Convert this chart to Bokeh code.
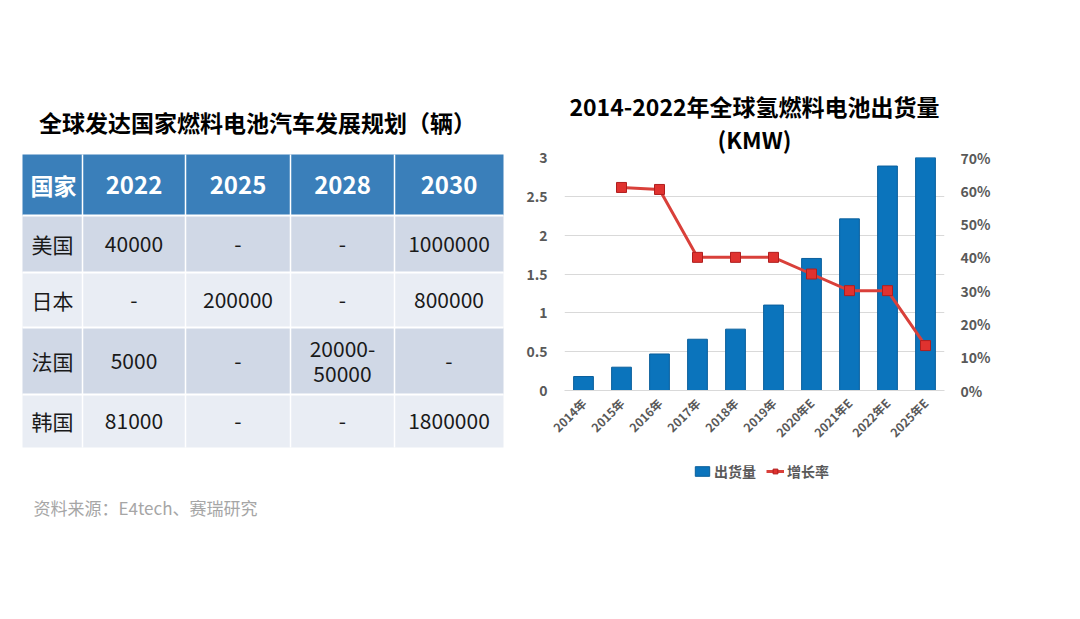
from bokeh.plotting import figure
from bokeh.models import (ColumnDataSource, Range1d, LinearAxis, FactorRange,
                          NumeralTickFormatter, Legend, LegendItem, Title, FixedTicker)
from bokeh.layouts import row, column
from bokeh.embed import file_html
from bokeh.resources import INLINE
from bokeh.core.properties import value
import math

# ---------------- data ----------------
table_title = "全球发达国家燃料电池汽车发展规划（辆）"
table_header = ["国家", "2022", "2025", "2028", "2030"]
countries = ["美国", "日本", "法国", "韩国"]
col_2022 = ["40000", "-", "5000", "81000"]
col_2025 = ["-", "200000", "-", "-"]
col_2028 = ["-", "-", "20000-\n50000", "-"]
col_2030 = ["1000000", "800000", "-", "1800000"]
source_note = "资料来源：E4tech、赛瑞研究"

chart_title = "2014-2022年全球氢燃料电池出货量"
chart_unit = "(KMW)"
years = ["2014年", "2015年", "2016年", "2017年", "2018年", "2019年",
         "2020年E", "2021年E", "2022年E", "2025年E"]
shipments = [0.18, 0.30, 0.47, 0.66, 0.79, 1.10, 1.70, 2.21, 2.89, 3.00]
growth_years = ["2015年", "2016年", "2017年", "2018年", "2019年",
                "2020年E", "2021年E", "2022年E", "2025年E"]
growth = [0.61, 0.604, 0.40, 0.40, 0.40, 0.35, 0.30, 0.30, 0.135]
left_ticks = [0, 0.5, 1, 1.5, 2, 2.5, 3]
left_tick_labels = ["0", "0.5", "1", "1.5", "2", "2.5", "3"]
right_ticks = [0, 0.1, 0.2, 0.3, 0.4, 0.5, 0.6, 0.7]
legend_labels = ["出货量", "增长率"]

FONT = "Noto Sans CJK SC"
BAR_FILL, BAR_LINE = "#0B74BC", "#0A5F9C"
LINE_COLOR, MK_FILL, MK_LINE = "#D9403A", "#E0322F", "#B01E1E"

# ---------------- left panel: table ----------------
LW, LH = 520, 560
left = figure(width=LW, height=LH, x_range=Range1d(0, LW), y_range=Range1d(LH, 0),
              output_backend="svg", toolbar_location=None, min_border=0,
              x_axis_type=None, y_axis_type=None, frame_align=False)
left.grid.visible = False
left.outline_line_color = None
left.background_fill_color = "white"

left.text(x=[257], y=[121], text=[table_title], text_font=value(FONT),
          text_font_size="23px", text_font_style="bold", text_color="#000000",
          text_align="center", text_baseline="middle")

cx = [22, 82, 185, 290, 394, 503]
ry = [154, 215, 272, 327, 394, 447]
row_colors = ["#3A7FBA", "#D0D8E6", "#E9EDF4", "#D0D8E6", "#E9EDF4"]
left.quad(left=[cx[0]] * 5, right=[cx[-1]] * 5, top=ry[:-1], bottom=ry[1:],
          fill_color=row_colors, line_color=None)
# separators
left.segment(x0=cx[1:-1], x1=cx[1:-1], y0=[ry[0]] * 4, y1=[ry[-1]] * 4,
             line_color="white", line_width=1.5)
left.segment(x0=[cx[0]] * 4, x1=[cx[-1]] * 4, y0=ry[1:-1], y1=ry[1:-1],
             line_color="white", line_width=2)

row_mid = [(ry[i] + ry[i + 1]) / 2 for i in range(5)]
col_mid = [(cx[i] + cx[i + 1]) / 2 for i in range(5)]

# header
left.text(x=[cx[0] + 8], y=[row_mid[0]], text=[table_header[0]], text_font=value(FONT),
          text_font_size="23px", text_font_style="bold", text_color="white",
          text_align="left", text_baseline="middle")
left.text(x=col_mid[1:], y=[row_mid[0]] * 4, text=table_header[1:], text_font=value(FONT),
          text_font_size="24px", text_font_style="bold", text_color="white",
          text_align="center", text_baseline="middle")
# body
left.text(x=[cx[0] + 9] * 4, y=row_mid[1:], text=countries, text_font=value(FONT),
          text_font_size="21px", text_color="#1A1A1A",
          text_align="left", text_baseline="middle")
LINE_GAP = 25
bx, by, bt = [], [], []
for ci, col in enumerate([col_2022, col_2025, col_2028, col_2030]):
    for ri, cell in enumerate(col):
        parts = cell.split("\n")
        n = len(parts)
        for k, part in enumerate(parts):
            bx.append(col_mid[ci + 1])
            by.append(row_mid[ri + 1] + (k - (n - 1) / 2) * LINE_GAP)
            bt.append(part)
left.text(x=bx, y=by, text=bt, text_font=value(FONT),
          text_font_size="21px", text_color="#1A1A1A", text_align="center",
          text_baseline="middle")

left.text(x=[33], y=[507], text=[source_note], text_font=value(FONT),
          text_font_size="17px", text_color="#A6A6A6",
          text_align="left", text_baseline="middle")

# ---------------- right panel: chart ----------------
p = figure(frame_width=380, frame_height=233, x_range=FactorRange(*years),
           y_range=Range1d(0, 3),
           output_backend="svg", toolbar_location=None, frame_align=False,
           min_border_left=44, min_border_right=128, min_border_top=157,
           min_border_bottom=62)
p.outline_line_color = None
p.xgrid.visible = False
p.ygrid.ticker = FixedTicker(ticks=left_ticks[1:-1])
p.ygrid.grid_line_color = "#D9D9D9"
p.ygrid.grid_line_width = 1

p.add_layout(Title(text=chart_unit, align="center", text_font=FONT,
                   text_font_size="23px", text_font_style="bold", text_color="#000000",
                   standoff=4), "above")
p.add_layout(Title(text=chart_title, align="center", text_font=FONT,
                   text_font_size="23px", text_font_style="bold", text_color="#000000",
                   standoff=-10), "above")

bar_src = ColumnDataSource(dict(x=years, y=shipments))
p.vbar(x="x", top="y", width=0.52, source=bar_src,
       fill_color=BAR_FILL, line_color=BAR_LINE, line_width=1)

p.extra_y_ranges = {"rate": Range1d(0, 0.7)}
line_src = ColumnDataSource(dict(x=growth_years, y=growth))
p.line(x="x", y="y", source=line_src, y_range_name="rate",
       line_color=LINE_COLOR, line_width=3)
p.scatter(x="x", y="y", source=line_src, y_range_name="rate", marker="square",
          size=10, fill_color=MK_FILL, line_color=MK_LINE, line_width=1)

# axes
ya = p.yaxis[0]
ya.ticker = FixedTicker(ticks=left_ticks)
ya.major_label_overrides = {t: l for t, l in zip(left_ticks, left_tick_labels)}
ya.axis_line_color = None
ya.major_tick_line_color = None
ya.minor_tick_line_color = None
ya.major_label_text_font = FONT
ya.major_label_text_font_size = "14px"
ya.major_label_text_font_style = "bold"
ya.major_label_text_color = "#595959"
ya.major_label_standoff = 11

ra = LinearAxis(y_range_name="rate", ticker=FixedTicker(ticks=right_ticks),
                formatter=NumeralTickFormatter(format="0%"))
ra.axis_line_color = None
ra.major_tick_line_color = None
ra.minor_tick_line_color = None
ra.major_label_text_font = FONT
ra.major_label_text_font_size = "14px"
ra.major_label_text_font_style = "bold"
ra.major_label_text_color = "#595959"
ra.major_label_standoff = 10
p.add_layout(ra, "right")

xa = p.xaxis[0]
xa.axis_line_color = "#D9D9D9"
xa.major_tick_line_color = None
xa.minor_tick_line_color = None
xa.major_label_orientation = math.pi / 4
xa.major_label_text_font = FONT
xa.major_label_text_font_size = "12px"
xa.major_label_text_font_style = "bold"
xa.major_label_text_color = "#595959"
xa.major_label_standoff = 4

# ---------------- legend strip under the chart ----------------
leg = figure(width=552, height=40, x_range=Range1d(0, 1), y_range=Range1d(0, 1),
             output_backend="svg", toolbar_location=None, min_border=0,
             x_axis_type=None, y_axis_type=None, frame_align=False)
leg.grid.visible = False
leg.outline_line_color = None
# swatch renderers: their single data point lies outside the strip's visible range
hidden = ColumnDataSource(dict(x=[-5, -4], y=[-5, -5]))
r_bar = leg.vbar(x="x", top="y", width=0.5, source=hidden,
                 fill_color=BAR_FILL, line_color=BAR_LINE, line_width=1)
r_ln = leg.line(x="x", y="y", source=hidden, line_color=LINE_COLOR, line_width=3)
r_mk = leg.scatter(x="x", y="y", source=hidden, marker="square", size=9,
                   fill_color=MK_FILL, line_color=MK_LINE, line_width=1)
legend = Legend(items=[LegendItem(label=legend_labels[0], renderers=[r_bar]),
                       LegendItem(label=legend_labels[1], renderers=[r_ln, r_mk])],
                orientation="horizontal", location=(173, 11),
                label_text_font=FONT, label_text_font_size="14px",
                label_text_font_style="bold", label_text_color="#595959",
                glyph_width=18, glyph_height=12, spacing=10, label_standoff=3,
                border_line_color=None, background_fill_alpha=0, margin=0, padding=4)
leg.add_layout(legend)

layout = row(left, column(p, leg))
open("out.html", "w").write(file_html(layout, INLINE))
